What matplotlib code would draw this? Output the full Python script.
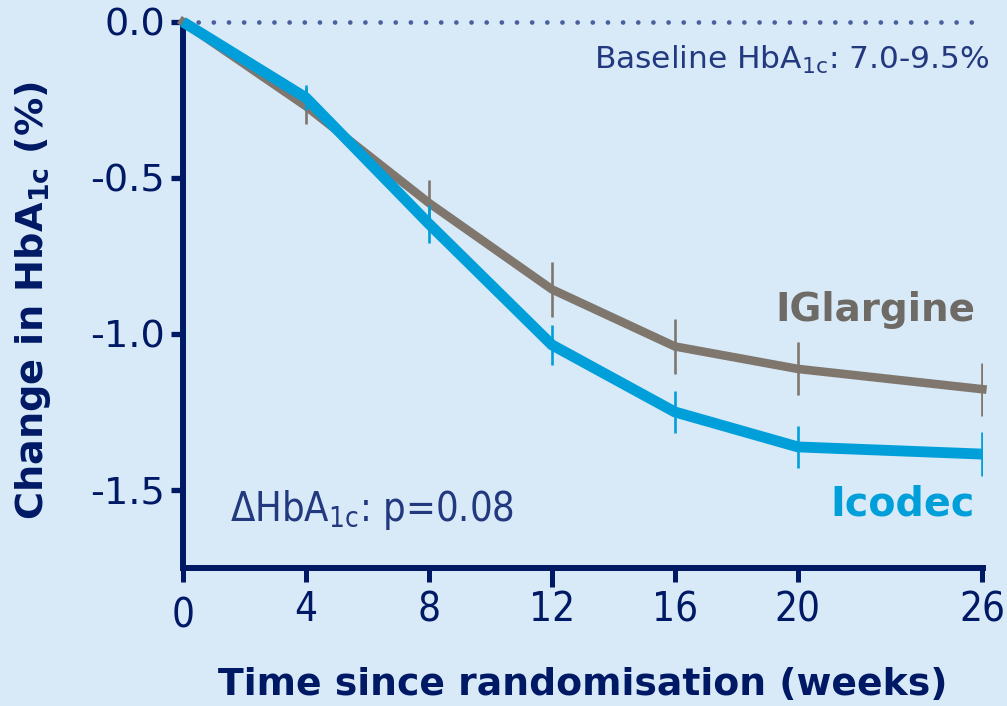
#!/usr/bin/env python3

import matplotlib
matplotlib.use("Agg")
from matplotlib import pyplot as plt
from matplotlib.transforms import blended_transform_factory

weeks = [0, 4, 8, 12, 16, 20, 26]
xtick_labels = ["", "4", "8", "12", "16", "20", "26"]
yticks = [0.0, -0.5, -1.0, -1.5]
ytick_labels = ["0.0", "-0.5", "-1.0", "-1.5"]

glargine = [0.0, -0.27, -0.58, -0.857, -1.04, -1.112, -1.177]
glargine_err = [0.0, 0.058, 0.075, 0.088, 0.087, 0.085, 0.085]
icodec = [0.0, -0.243, -0.647, -1.035, -1.25, -1.362, -1.385]
icodec_err = [0.0, 0.04, 0.06, 0.064, 0.067, 0.066, 0.07]

BG = "#d8e9f7"
NAVY = "#001965"
TEXT_NAVY = "#22397f"
GREY = "#7f766e"
BLUE = "#009fda"

plt.rcParams["font.family"] = ["DejaVu Sans"]
plt.rcParams["mathtext.fontset"] = "dejavusans"
plt.rcParams["axes.unicode_minus"] = False


def plot_hba1c():
	fig = plt.figure(figsize=(10.07, 7.06), dpi=100, facecolor=BG)
	ax = fig.add_axes([0.1817, 0.1955, 0.7944, 0.7734])
	ax.set_facecolor(BG)

	# dotted reference line at zero
	ax.plot([0, 26], [0, 0], color="#4b5f9e", lw=3.4, linestyle=(0, (0.01, 3.2)),
			dash_capstyle="round", clip_on=False, zorder=1)

	ax.errorbar(weeks[1:], glargine[1:], yerr=glargine_err[1:], fmt="none",
				ecolor=GREY, elinewidth=1.9, capsize=0, zorder=2)
	ax.plot(weeks, glargine, color=GREY, lw=6.2, solid_joinstyle="miter",
			clip_on=False, zorder=3)
	ax.errorbar(weeks[1:], icodec[1:], yerr=icodec_err[1:], fmt="none",
				ecolor=BLUE, elinewidth=1.9, capsize=0, zorder=4)
	ax.plot(weeks, icodec, color=BLUE, lw=7.8, solid_joinstyle="miter",
			solid_capstyle="butt", clip_on=False, zorder=5)

	ax.set_xlim(0, 26.02)
	ax.set_ylim(-1.75, 0)
	for s in ["top", "right"]:
		ax.spines[s].set_visible(False)
	for s in ["left", "bottom"]:
		ax.spines[s].set_color(NAVY)
		ax.spines[s].set_linewidth(4.3)

	ax.set_yticks(yticks)
	ax.set_yticklabels(ytick_labels)
	ax.set_xticks(weeks)
	ax.set_xticklabels(xtick_labels, fontstretch="condensed")
	ax.tick_params(axis="y", length=9, width=3.8, color=NAVY, labelcolor=NAVY,
				   labelsize=27.5, pad=4)
	ax.tick_params(axis="x", length=10, width=3.6, color=NAVY, labelcolor=NAVY,
				   labelsize=29, pad=6)
	# the week-12 tick is drawn a little longer in the original
	ax.xaxis.get_major_ticks()[3].tick1line.set_markersize(14)

	trans = blended_transform_factory(ax.transData, fig.transFigure)
	ax.text(0, 1 - 616 / 706, "0", transform=trans, ha="center", va="center",
			fontsize=29, color=NAVY, fontstretch="condensed")

	ax.text(0.9825, 1 - 60 / 706, "Baseline HbA$_{\\mathregular{1c}}$: 7.0-9.5%",
			transform=fig.transFigure, ha="right", va="center", fontsize=22.5,
			color=TEXT_NAVY)
	ax.text(230 / 1007, 1 - 510 / 706, "\u0394HbA$_{\\mathregular{1c}}$: p=0.08",
			transform=fig.transFigure, ha="left", va="center", fontsize=28.5,
			color=TEXT_NAVY, fontstretch="condensed")
	ax.text(975 / 1007, 1 - 310 / 706, "IGlargine", transform=fig.transFigure,
			ha="right", va="center", fontsize=28, fontweight="bold", color="#6e6a66")
	ax.text(975 / 1007, 1 - 505 / 706, "Icodec", transform=fig.transFigure,
			ha="right", va="center", fontsize=28.5, fontweight="bold", color=BLUE)

	fig.text(583 / 1007, 1 - 685 / 706, "Time since randomisation (weeks)",
			 ha="center", va="center", fontsize=27.2, fontweight="bold", color=NAVY)
	fig.text(33 / 1007, 1 - 301 / 706, "Change in HbA$_{\\mathbf{1c}}$ (%)",
			 ha="center", va="center", rotation=90, fontsize=27.5,
			 fontweight="bold", color=NAVY)

	plt.savefig("out.png", dpi=100, facecolor=BG)
	plt.close()


if __name__ == "__main__":
	plot_hba1c()
